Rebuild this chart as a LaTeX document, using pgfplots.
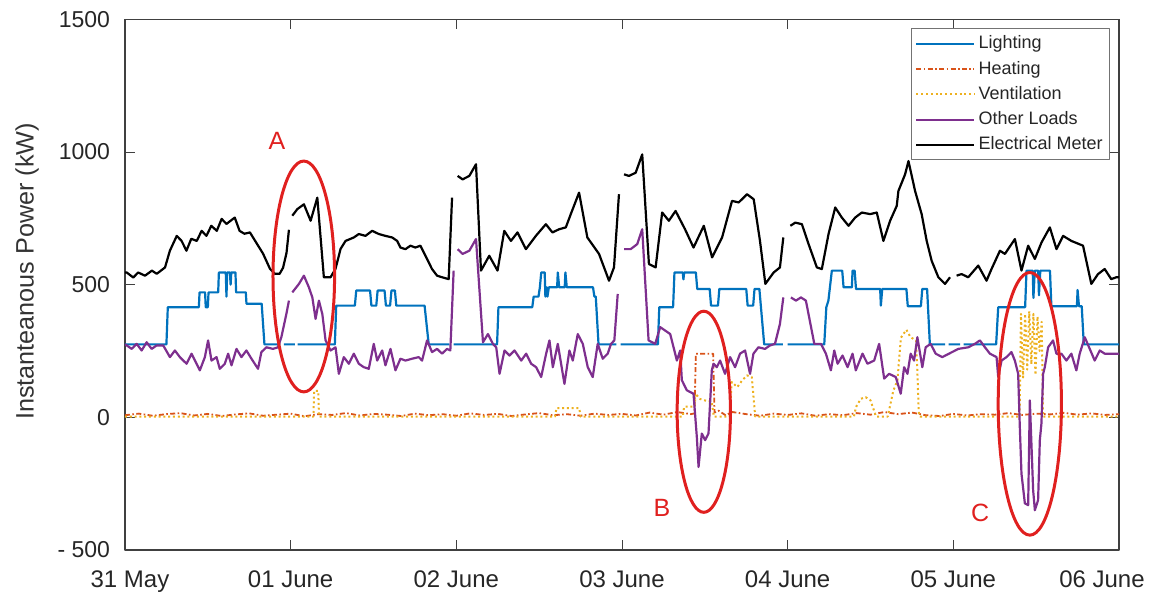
\documentclass[border=0pt]{standalone}
\usepackage{fontspec}
\setmainfont{Liberation Sans}
\usepackage{pgfplots}
\pgfplotsset{compat=1.18}
\definecolor{cLight}{HTML}{0072BD}
\definecolor{cHeat}{HTML}{D95319}
\definecolor{cVent}{HTML}{EDB120}
\definecolor{cOther}{HTML}{7E2F8E}
\definecolor{cRed}{HTML}{E0201F}
\begin{document}
\begin{tikzpicture}
\begin{axis}[
  at={(0,0)}, anchor=south west,
  scale only axis, width=497pt, height=265.3pt,
  xmin=0, xmax=144, ymin=-500, ymax=1500,
  xtick={0,24,48,72,96,120,144},
  xticklabels={\hspace*{5pt}31 May,01 June,02 June,03 June,04 June,05 June,06 June\hspace*{17pt}},
  ytick={-500,0,500,1000,1500},
  yticklabels={- 500,0,500,1000,1500},
  /pgf/number format/assume math mode=true,
  tick align=inside, major tick length=5pt,
  tick style={black!75, line width=0.5pt},
  axis line style={black!75, line width=0.6pt},
  ticklabel style={text=black!85},
  xticklabel style={yshift=-7pt, font=\fontsize{12}{14}\selectfont},
  yticklabel style={xshift=-4pt, font=\fontsize{11.5}{13}\selectfont},
  ylabel={Instanteanous Power (kW)},
  ylabel style={font=\fontsize{12.6}{15}\selectfont, at={(axis description cs:-0.0986,0.525)}, anchor=center, text=black!80},
  unbounded coords=jump,
  legend style={at={(axis description cs:0.991,0.983)}, anchor=north east, draw=black!55, line width=0.5pt,
    font=\fontsize{9}{10}\selectfont, inner xsep=2pt, inner ysep=2pt, row sep=1.6pt, text=black!85,
    nodes={inner xsep=1.5pt, inner ysep=1.5pt}},
  legend cell align=left,
  legend image code/.code={\draw[#1] (0pt,0pt) -- (29pt,0pt);},
  line join=round,
]
% Lighting
\addplot[cLight, line width=1.1pt] coordinates {
(0,275) (6.0,275) (6.2,415) (10.7,415) (10.8,471) (11.6,471) (11.7,415) (12.0,415) (12.1,471) (13.5,471) (13.6,546)
(14.6,546) (14.7,455) (14.8,546) (15.2,546) (15.3,500) (15.4,546) (16.0,546) (16.1,471) (17.5,471) (17.6,428)
(19.8,428) (20.2,275) (22.5,275) (22.5,nan) (23.0,275) (24.6,275) (24.6,nan) (25.0,275) (30.4,275) (30.6,421) (33.3,421) (33.5,478)
(35.5,478) (35.7,421) (36.4,421) (36.6,478) (37.6,478) (37.8,421) (38.4,421) (38.6,478) (39.1,478) (39.3,421)
(43.4,421) (44.0,275) (47.0,275) (47.0,nan) (47.6,275) (53.9,275) (54.1,415) (59.0,415) (59.2,455) (59.9,455) (60.1,490) (60.3,546)
(60.8,546) (60.9,455) (61.1,490) (61.2,455) (61.4,490) (62.6,490) (62.7,546) (62.9,490) (63.7,490) (63.8,546)
(64.0,490) (67.8,490) (68.0,455) (68.2,455) (68.6,275) (71.2,275) (71.2,nan) (71.8,275) (77.2,275) (77.4,415) (79.4,415) (79.6,546)
(80.8,546) (80.9,520) (81.0,546) (82.7,546) (82.9,484) (84.7,484) (84.9,421) (85.9,421) (86.1,484) (90.0,484) (90.2,421)
(91.0,421) (91.2,484) (91.9,484) (92.6,275) (95.3,275) (95.3,nan) (96.0,275) (101.3,275) (101.6,415) (101.9,440) (102.4,553) (103.9,553)
(104.1,490) (105.3,490) (105.4,553) (105.7,553) (105.9,484) (109.4,484) (109.5,421) (109.7,484) (113.2,484)
(113.4,419) (115.3,419) (115.5,484) (116.2,484) (116.6,275) (118.8,275) (118.8,nan) (119.3,275) (121.0,275) (121.0,nan) (121.5,275) (126.2,275) (126.5,415) (130.4,415)
(130.6,553) (131.5,553) (131.6,450) (131.8,553) (132.3,553) (132.4,460) (132.6,553) (134.0,553) (134.2,419)
(137.9,419) (138.0,480) (138.2,419) (138.6,419) (138.9,275) (144,275)
};
\addlegendentry{Lighting}
% Heating
\addplot[cHeat, line width=0.9pt, dash pattern=on 2.5pt off 1.2pt on 0.8pt off 1.2pt] coordinates {
(0,8) (2,14) (4,6) (6,12) (8,16) (10,7) (12,13) (14,5) (16,11) (18,15) (20,6) (22,10) (24,14) (26,4) (28,12)
(30,9) (32,16) (34,7) (36,13) (38,10) (40,5) (42,14) (44,8) (46,12) (48,6) (50,15) (52,9) (54,13) (56,5) (58,11)
(60,16) (62,8) (64,12) (66,6) (68,14) (70,9) (72,13) (74,7) (76,18) (78,10) (80,20) (82,12) (82.5,15) (82.7,240)
(85.2,240) (85.4,18) (86,25) (87,8) (88,20) (90,12) (92,6) (94,14) (96,9) (98,15) (100,6) (102,12) (104,8)
(106,16) (108,10) (110,20) (112,12) (114,18) (116,8) (118,5) (120,13) (122,7) (124,12) (126,10) (128,16) (130,9)
(132,14) (134,11) (136,17) (138,10) (140,15) (142,9) (144,12)
};
\addlegendentry{Heating}
% Ventilation
\addplot[cVent, line width=1pt, dash pattern=on 1pt off 1.4pt] coordinates {
(0,3) (27.3,3) (27.4,100) (28.0,100) (28.1,3) (62.3,3) (62.5,35) (65.8,35) (66.0,3) (80.8,3) (81.0,40)
(82.5,40) (82.7,90) (83.2,70) (84.5,60) (85.0,60) (85.3,3) (87.6,3) (87.9,133) (88.7,114) (89.4,139) (90.1,158)
(90.8,152) (91.3,3) (105.6,3) (105.9,39) (106.6,70) (107.3,76) (108.0,64) (108.5,26) (108.8,3) (110.5,3)
(111.3,100) (111.9,139) (112.4,300) (113.2,330) (113.8,302) (114.6,290) (114.8,164) (115.0,14) (115.2,3)
(129.6,3) (129.8,390) (130.1,150) (130.4,390) (130.7,180) (131.0,400) (131.3,200) (131.6,390) (131.9,160)
(132.2,380) (132.5,250) (132.8,360) (133.0,3) (144,3)
};
\addlegendentry{Ventilation}
% Other Loads
\addplot[cOther, line width=1.1pt] coordinates {
(0,275) (0.25,271) (0.97,258) (1.69,277) (2.41,252) (3.14,283) (3.86,258) (4.58,271) (5.54,271) (6.51,227)
(7.23,252) (7.95,227) (8.92,202) (9.64,240) (10.84,177) (11.57,227) (12.04,290) (12.53,214) (13.26,227)
(13.73,183) (14.46,202) (14.94,240) (15.43,196) (16.15,258) (16.87,227) (17.59,252) (18.32,221) (19.27,183)
(19.76,246) (20.49,264) (21.44,258) (22.16,264) (22.65,302) (23.38,390) (23.75,440)
(24.0,nan)
(24.24,471) (25.20,503) (25.92,534) (26.64,490) (27.14,452) (27.61,371) (28.09,440) (28.58,390) (29.06,290)
(29.78,252) (30.50,264) (30.98,164) (31.70,227) (32.43,202) (33.15,240) (33.87,202) (34.60,189) (35.32,183)
(36.04,277) (36.53,214) (37.26,252) (37.73,196) (38.46,258) (39.18,177) (39.90,221) (40.63,214) (41.59,221)
(42.55,227) (43.04,214) (43.76,290) (44.48,246) (45.21,258) (45.93,240) (46.65,258) (47.13,252) (47.61,553)
(47.9,nan)
(48.19,634) (48.91,616) (49.88,628) (50.85,672) (51.86,283) (52.58,314) (53.30,277) (53.78,264) (54.26,164)
(54.98,252) (55.70,233) (56.43,252) (57.40,214) (58.12,240) (58.84,202) (59.56,189) (60.29,152) (61.01,240)
(61.49,290) (61.98,189) (62.70,277) (63.66,126) (64.38,252) (64.87,214) (65.59,314) (66.32,277) (67.04,189)
(67.76,152) (68.48,277) (69.21,221) (69.93,240) (70.41,277) (70.89,290) (71.38,465)
(71.8,nan)
(72.29,634) (73.25,634) (74.21,653) (74.93,709) (75.85,290) (76.81,277) (77.53,340) (78.26,327) (78.98,314)
(79.47,264) (79.95,214) (80.43,252) (80.67,140) (81.39,102) (82.36,89) (82.84,-74) (83.09,-187) (83.56,-61)
(84.04,-86) (84.53,-61) (85.01,177) (85.26,202) (85.73,189) (86.21,214) (86.93,164) (87.66,227) (88.38,189)
(89.10,240) (89.83,252) (90.55,164) (91.04,240) (91.76,264) (92.71,258) (93.44,271) (94.16,277) (94.88,352)
(95.37,452)
(95.9,nan)
(96.47,452) (97.20,440) (97.92,452) (98.64,440) (99.86,277) (100.82,277) (101.54,240) (102.26,177) (102.75,252)
(103.23,202) (103.95,233) (104.68,189) (105.40,240) (105.87,177) (106.84,240) (107.56,202) (108.53,214)
(109.25,277) (109.98,146) (110.70,164) (111.66,152) (112.38,89) (112.87,189) (113.35,164) (113.82,240)
(114.31,214) (114.79,302) (115.51,189) (115.99,264) (116.71,277) (117.44,240) (118.40,227) (119.37,240)
(120.72,258) (122.16,264) (123.13,277) (123.85,290) (124.58,264) (125.30,240) (126.26,227) (126.50,152)
(126.98,214) (127.70,227) (128.42,246) (128.91,214) (129.39,164) (129.63,-36) (129.87,-212) (130.36,-324)
(130.84,-331) (131.08,64) (131.56,-274) (131.81,-350) (132.28,-312) (132.53,-86) (132.76,-24) (133.01,164)
(133.25,189) (133.73,264) (134.45,290) (134.93,240) (135.65,240) (136.38,214) (137.10,240) (137.82,177)
(138.31,240) (139.04,302) (139.76,258) (140.48,214) (141.21,252) (141.93,240) (142.88,240) (144,240)
};
\addlegendentry{Other Loads}
% Electrical Meter
\addplot[black, line width=1.1pt] coordinates {
(0,546) (0.25,546) (1.2,527) (1.9,546) (2.9,534) (3.9,553) (4.6,541) (5.8,565) (6.5,628) (7.5,684) (8.2,665)
(8.9,628) (9.6,673) (10.4,665) (11.1,703) (11.8,684) (12.5,722) (13.3,703) (14.0,748) (14.7,729) (15.9,753)
(16.6,703) (17.3,692) (18.1,697) (19.0,659) (20.0,617) (21.0,560) (21.7,541) (22.4,541) (22.9,564) (23.4,620)
(23.75,707)
(24,nan)
(24.24,760) (24.97,785) (25.92,803) (26.89,741) (27.86,828) (28.81,528) (29.78,528) (30.50,560) (31.23,635)
(31.95,665) (33.15,678) (33.87,691) (34.84,684) (35.81,703) (36.77,691) (37.73,684) (38.70,678) (39.43,665)
(39.90,640) (40.63,634) (41.35,647) (42.07,640) (42.79,647) (43.52,609) (44.48,559) (45.21,534) (45.93,528)
(46.89,521) (47.38,828)
(47.8,nan)
(48.19,910) (48.91,897) (49.88,910) (50.85,954) (51.57,553) (52.77,609) (53.97,553) (54.94,703) (55.91,665)
(56.86,697) (58.08,634) (59.52,684) (60.97,728) (61.92,697) (62.89,709) (63.86,716) (64.58,766) (65.78,847)
(66.98,678) (68.67,616) (70.12,515) (70.84,565) (71.56,841)
(71.9,nan)
(72.29,916) (73.01,910) (73.98,922) (74.93,991) (75.90,578) (76.87,565) (77.82,772) (78.79,741) (79.76,778)
(81.13,709) (82.36,640) (83.85,722) (85.05,603) (86.50,678) (87.94,816) (88.91,810) (90.11,841) (91.08,822)
(91.99,665) (92.77,503) (93.97,546) (94.88,565) (95.37,678)
(95.8,nan)
(96.39,722) (97.11,734) (98.06,728) (99.03,653) (100.23,565) (100.95,559) (101.92,691) (102.89,791)
(103.85,753) (104.82,722) (105.78,753) (106.74,772) (107.95,766) (108.91,772) (109.87,665) (110.84,741)
(111.80,797) (112.04,853) (113.01,916) (113.5,966) (114.46,853) (115.41,766) (116.14,665) (116.86,590)
(117.83,528) (118.80,503) (119.52,528)
(120.0,nan)
(120.47,534) (121.19,540) (122.16,528) (123.61,572) (124.81,515) (125.53,559) (126.75,628) (127.47,616)
(128.92,672) (129.87,553) (130.84,647) (131.81,597) (132.77,659) (133.98,716) (134.94,634) (135.90,684)
(137.10,665) (138.79,647) (139.99,503) (140.96,540) (141.92,559) (142.88,521) (143.61,528) (144,528)
};
\addlegendentry{Electrical Meter}
% annotations
\draw[cRed, line width=1.5pt] (axis cs:25.9,531) ellipse [x radius=4.46, y radius=435];
\draw[cRed, line width=1.5pt] (axis cs:83.85,21) ellipse [x radius=3.86, y radius=379];
\draw[cRed, line width=1.5pt] (axis cs:131.08,51) ellipse [x radius=4.58, y radius=495];
\node[text=cRed, font=\fontsize{12.5}{14}\selectfont] at (axis cs:22.0,1041) {A};
\node[text=cRed, font=\fontsize{12.5}{14}\selectfont] at (axis cs:77.8,-343) {B};
\node[text=cRed, font=\fontsize{12.5}{14}\selectfont] at (axis cs:123.9,-362) {C};
\end{axis}
\pgfresetboundingbox
\path[use as bounding box] (-62.5pt,-23.65pt) rectangle (513pt,275pt);
\end{tikzpicture}
\end{document}
